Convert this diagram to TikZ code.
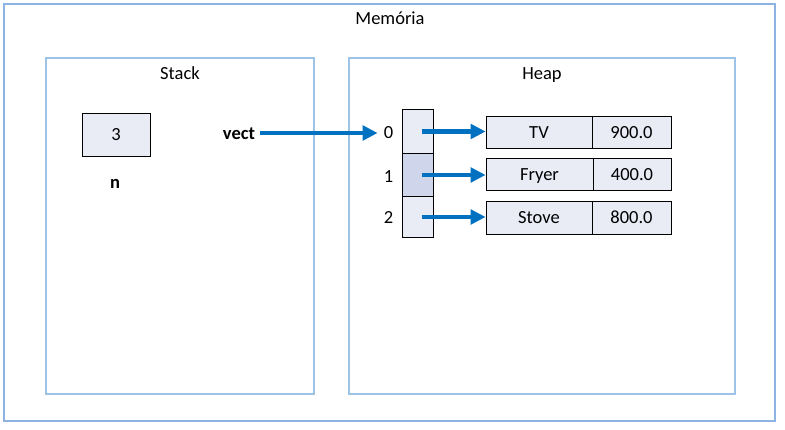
\documentclass[tikz,border=0pt]{standalone}
\usepackage{fontspec}
\setmainfont{Carlito}
\usetikzlibrary{arrows.meta}
\definecolor{frameblue}{HTML}{9DC3E6}
\definecolor{outerblue}{HTML}{8DB3E2}
\definecolor{ptrblue}{HTML}{0070C0}
\definecolor{cellfill}{HTML}{E9EBF5}
\definecolor{cellsel}{HTML}{CFD5EA}
\begin{document}
\begin{tikzpicture}[x=1pt,y=-1pt,
  every node/.style={font=\fontsize{18.5}{21}\selectfont,text height=12pt,text depth=0pt},
  region/.style={draw=frameblue,line width=1.2pt},
  datacell/.style={draw=black,line width=0.8pt,fill=cellfill,inner sep=0pt},
  lbl/.style={inner sep=1pt},
  ptr/.style={draw=ptrblue,line width=4.6pt,-{Triangle[length=15pt,width=14.5pt]}}]
\useasboundingbox (0,0) rectangle (785,430);
% memory regions
\draw[draw=outerblue,line width=1.4pt] (4,4) rectangle (775,421);
\node (mem) at (390,19) {Memória};
\draw[region] (46,58) rectangle (314,394);
\node (stk) at (180,74) {Stack};
\draw[region] (349,58) rectangle (735,394);
\node (hp) at (542,74) {Heap};
% stack variables
\node[datacell,minimum width=68,minimum height=43] (n) at (116,134.5) {3};
\node[lbl] (nlbl) at (115,183) {\bfseries n};
\node[lbl] (vect) at (239,134) {\bfseries vect};
% array cells and indices
\node[datacell,minimum width=31,minimum height=44] (c0) at (417.5,131.5) {};
\node[datacell,fill=cellsel,minimum width=31,minimum height=43] (c1) at (417.5,175) {};
\node[datacell,minimum width=31,minimum height=41] (c2) at (417.5,217) {};
\node[lbl] (i0) at (388.5,133) {0};
\node[lbl] (i1) at (388.5,177) {1};
\node[lbl] (i2) at (388.5,218) {2};
% product objects
\node[datacell,minimum width=106,minimum height=31.5] (tv) at (539,132.5) {TV};
\node[datacell,minimum width=79,minimum height=31.5] (tvp) at (631.5,132.5) {900.0};
\node[datacell,minimum width=107,minimum height=32] (fr) at (539.5,174.7) {Fryer};
\node[datacell,minimum width=78,minimum height=32] (frp) at (632,174.7) {400.0};
\node[datacell,minimum width=106,minimum height=32.5] (st) at (539,217.8) {Stove};
\node[datacell,minimum width=79,minimum height=32.5] (stp) at (631.5,217.8) {800.0};
% references
\draw[ptr] ([xshift=4pt]vect.east |- i0.west) -- ([xshift=-5pt]i0.west);
\draw[ptr] ([xshift=4pt]c0.center) -- (c0.center -| tv.west);
\draw[ptr] ([xshift=4pt]c1.center) -- (c1.center -| fr.west);
\draw[ptr] ([xshift=4pt]c2.center) -- (c2.center -| st.west);
\end{tikzpicture}
\end{document}
